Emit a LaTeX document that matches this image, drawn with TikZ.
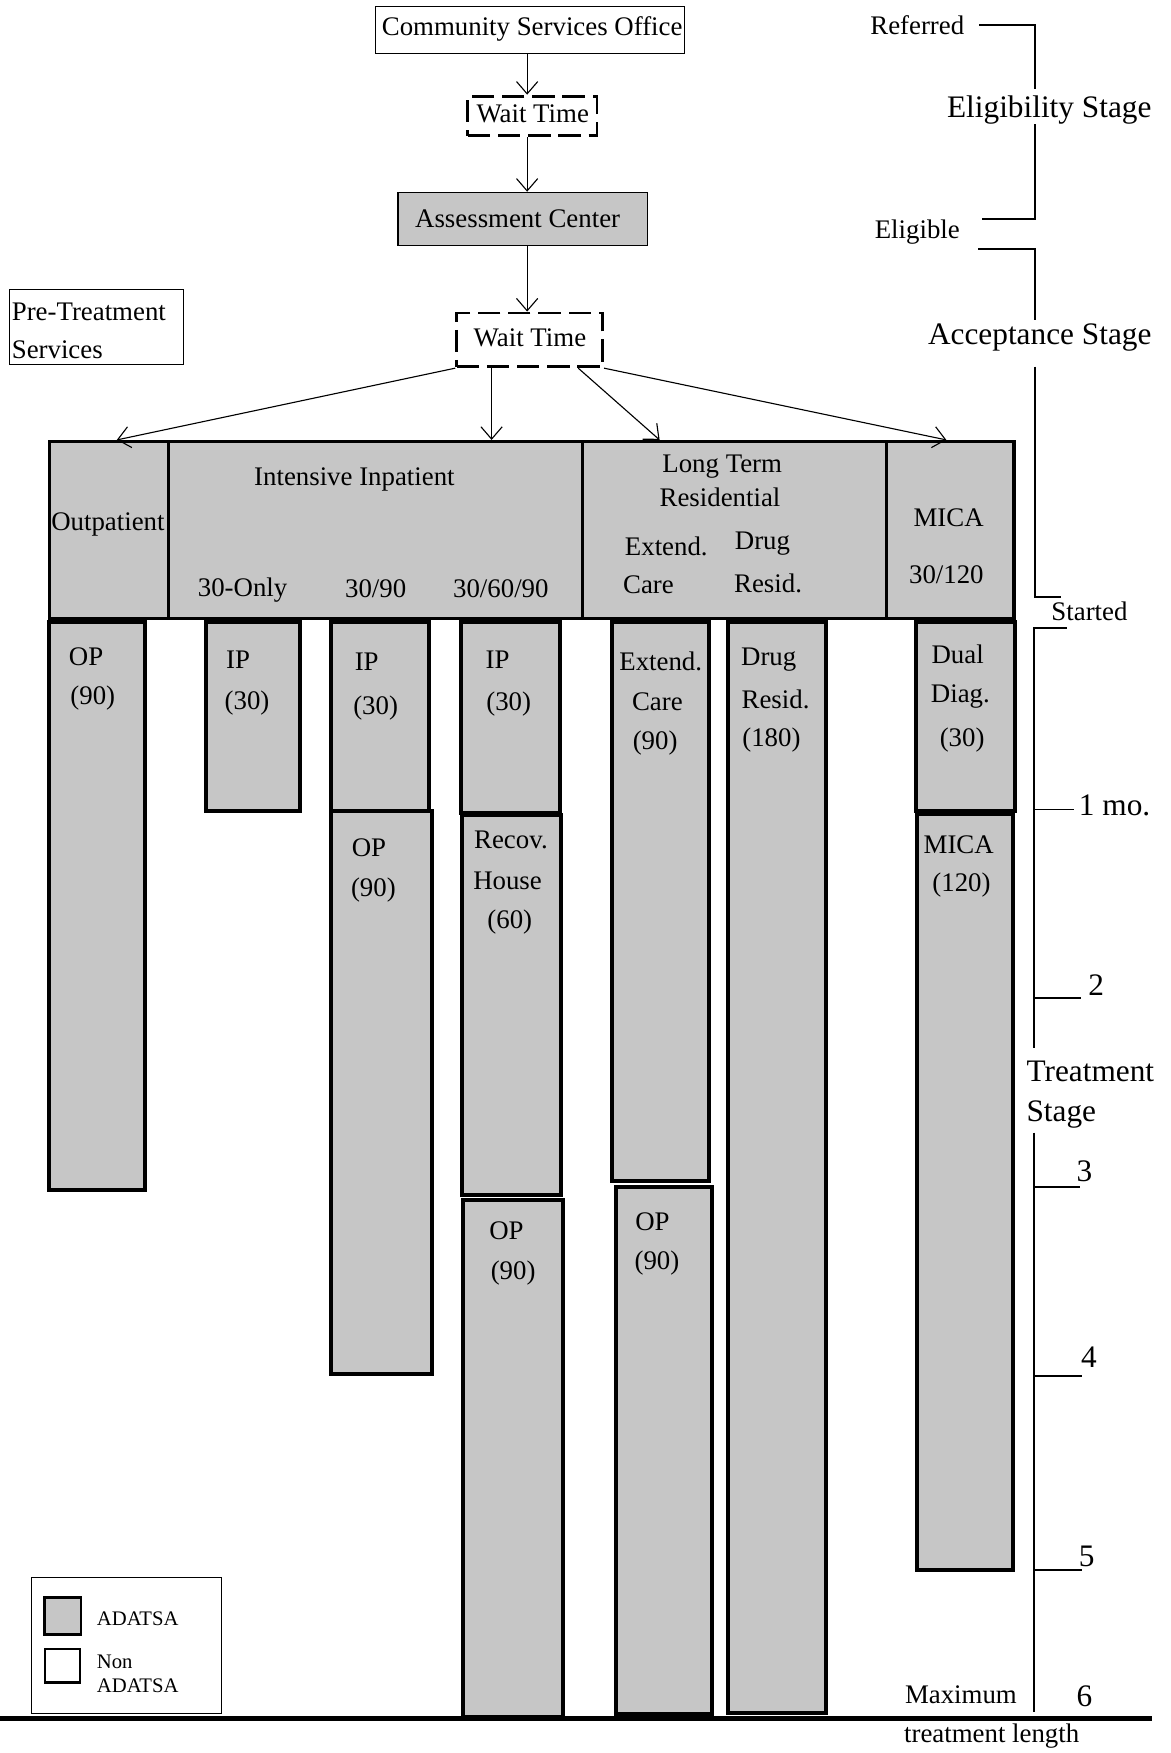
\documentclass[tikz,border=0pt]{standalone}
\usepackage{fontspec}
\setmainfont{Liberation Serif}
\usetikzlibrary{arrows.meta,fit}
\begin{document}
\begin{tikzpicture}[x=1pt,y=-1pt,
  tx/.style={font=\fontsize{24}{28}\selectfont, inner sep=0pt},
  bigtx/.style={font=\fontsize{28}{32}\selectfont, inner sep=0pt},
  smtx/.style={font=\fontsize{18.5}{21}\selectfont, inner sep=0pt},
  hbox/.style={draw, line width=3pt, fill=gray!45, inner sep=0pt},
  cbox/.style={draw, line width=3.6pt, fill=gray!45, inner sep=0pt},
  dbox/.style={draw, line width=2.6pt, dash pattern=on 20pt off 7pt, inner sep=0pt, fill=white},
  plainbox/.style={draw, line width=1pt, inner sep=0pt},
  arr/.style={line width=1pt, -{Straight Barb[length=11pt,width=19pt]}},
  ln/.style={line width=1.6pt},
]
\useasboundingbox (0,0) rectangle (1047,1568);

% top chain
\node[plainbox, fit={(336,5.5) (612.5,47.5)}] (cso) {};
\node[tx] (csot) at (476,26) {Community Services Office};
\node[dbox, fit={(418.5,86) (534,121.5)}] (wt1) {};
\node[tx] (wt1t) at (476.5,102) {Wait Time};
\node[plainbox, fill=gray!45, fit={(356,172) (579,219.5)}] (ac) {};
\node[tx] (act) at (463,195.5) {Assessment Center};
\node[dbox, fit={(408.5,280) (539,328)}] (wt2) {};
\node[tx] (wt2t) at (474,302) {Wait Time};
\coordinate (ax) at (471.5,0);
\draw[arr] (cso.south -| ax) -- (wt1.north -| ax);
\draw[arr] (wt1.south -| ax) -- (ac.north -| ax);
\draw[arr] (ac.south -| ax) -- (wt2.north -| ax);

% pre-treatment label
\node[plainbox, fit={(8.3,259) (164,326)}] (pts) {};
\node[tx, anchor=west] (ptsa) at (10.4,279) {Pre-Treatment};
\node[tx, anchor=west] (ptsb) at (10.4,313) {Services};

% header row
\node[hbox, fit={(44,395) (151,553)}] (hOut) {};
\node[hbox, fit={(151,395) (521,553)}] (hInt) {};
\node[hbox, fit={(521,395) (793,553)}] (hLTR) {};
\node[hbox, fit={(793,395) (907,553)}] (hMICA) {};

\node[tx] (tOut) at (96.5,469) {Outpatient};
\node[tx] (tInt) at (317,429) {Intensive Inpatient};
\node[tx] (t30o) at (217,528) {30-Only};
\node[tx] (t3090) at (336,527) {30/90};
\node[tx] (t306090) at (448,527) {30/60/90};
\node[tx] (tLT1) at (646,417) {Long Term};
\node[tx] (tLT2) at (644,445) {Residential};
\node[tx] (tEC1) at (596,489) {Extend.};
\node[tx] (tEC2) at (580,523) {Care};
\node[tx] (tDR1) at (682,486) {Drug};
\node[tx] (tDR2) at (687,521.5) {Resid.};
\node[tx] (tM1) at (848.5,463) {MICA};
\node[tx] (tM2) at (846.5,514) {30/120};

% fan-out arrows
\coordinate (s2) at ([xshift=32.5pt]wt2.south west);
\coordinate (s3) at ([xshift=110pt]wt2.south west);
\draw[arr] (wt2.south west) -- ([xshift=7pt]hOut.north);
\draw[arr] (s2) -- (s2 |- hInt.north);
\draw[arr] (s3) -- ([xshift=-67pt]hLTR.north);
\draw[arr] (wt2.south east) -- ([xshift=-3.5pt]hMICA.north);

% treatment columns
\node[cbox, fit={(44,556) (130,1064)}] (c1) {};
\node[tx] (c1a) at (77,587) {OP};
\node[tx] (c1b) at (83,624) {(90)};

\node[cbox, fit={(184,556) (268,725)}] (c2) {};
\node[tx] (c2a) at (213,590) {IP};
\node[tx] (c2b) at (221,629) {(30)};

\node[cbox, fit={(296,725) (386,1229)}] (c3b) {};
\node[cbox, fit={(296,556) (384,725)}] (c3a) {};
\node[tx] (c3a1) at (328,591.6) {IP};
\node[tx] (c3a2) at (336,633) {(30)};
\node[tx] (c3b1) at (330,758) {OP};
\node[tx] (c3b2) at (334,796) {(90)};

\node[cbox, fit={(412,556) (501,727)}] (c4a) {};
\node[cbox, fit={(413,729) (502,1069)}] (c4b) {};
\node[cbox, fit={(414,1073) (504,1536)}] (c4c) {};
\node[tx] (c4a1) at (445,590) {IP};
\node[tx] (c4a2) at (455,630) {(30)};
\node[tx] (c4b1) at (457,751) {Recov.};
\node[tx] (c4b2) at (454,788) {House};
\node[tx] (c4b3) at (456,825) {(60)};
\node[tx] (c4c1) at (453,1101) {OP};
\node[tx] (c4c2) at (459,1138.5) {(90)};

\node[cbox, fit={(547,556) (634,1056)}] (c5a) {};
\node[cbox, fit={(551,1062) (636.5,1533)}] (c5b) {};
\node[tx] (c5a1) at (591,591.6) {Extend.};
\node[tx] (c5a2) at (588,628) {Care};
\node[tx] (c5a3) at (586,664.5) {(90)};
\node[tx] (c5b1) at (583.6,1092.4) {OP};
\node[tx] (c5b2) at (587.6,1129.5) {(90)};

\node[cbox, fit={(651,556) (739,1532)}] (c6) {};
\node[tx] (c61) at (687.6,590) {Drug};
\node[tx] (c62) at (693.7,626) {Resid.};
\node[tx] (c63) at (690,661.7) {(180)};

\node[cbox, fit={(819,556) (907.5,725)}] (c7a) {};
\node[cbox, fit={(820,728.5) (906.3,1404)}] (c7b) {};
\node[tx] (c7a1) at (856.6,585.7) {Dual};
\node[tx] (c7a2) at (859,623) {Diag.};
\node[tx] (c7a3) at (860.6,661.7) {(30)};
\node[tx] (c7b1) at (857.5,755.5) {MICA};
\node[tx] (c7b2) at (860,792) {(120)};

% bottom line
\draw[line width=4pt] (0,1537) -- (1030,1537);

% legend
\node[plainbox, fit={(28,1411) (198,1533)}] (leg) {};
\node[draw, line width=2.5pt, fill=gray!45, inner sep=0pt, fit={(39.5,1429) (72.5,1462)}] (lg1) {};
\node[draw, line width=2pt, inner sep=0pt, fit={(40,1475) (71.5,1505)}] (lg2) {};
\node[smtx, anchor=west] (lt1) at (86.5,1448) {ADATSA};
\node[smtx, anchor=west] (lt2) at (86.5,1486) {Non};
\node[smtx, anchor=west] (lt3) at (86.5,1507.5) {ADATSA};

% stage timeline
\node[tx] (ref) at (820.5,22.3) {Referred};
\node[bigtx] (elst) at (938.5,98) {Eligibility Stage};
\node[tx] (elig) at (820.5,208) {Eligible};
\node[bigtx] (acst) at (930,302) {Acceptance Stage};
\node[tx] (stt) at (974.5,547) {Started};
\node[bigtx] (m1) at (997,720) {1 mo.};
\node[bigtx] (m2) at (980.5,881) {2};
\node[bigtx] (m3) at (970,1048) {3};
\node[bigtx] (m4) at (974,1214) {4};
\node[bigtx] (m5) at (972,1392) {5};
\node[bigtx] (m6) at (970,1517) {6};
\node[bigtx, anchor=west] (trt) at (918,958) {Treatment};
\node[bigtx, anchor=west] (stg) at (918,997) {Stage};
\node[tx] (maxi) at (859.5,1516) {Maximum};
\node[tx] (tlen) at (887,1553) {treatment length};

\draw[ln] (876,22.3) -- (925.5,22.3) -- (925.5,80);
\draw[ln] (925.5,111) -- (925.5,196) -- (878,196);
\draw[ln] (875,223) -- (926,223) -- (926,286);
\draw[ln] (926,328) -- (926,534) -- (949,534);
\draw[ln] (954,562) -- (925,562) -- (925,937);
\draw[ln] (925,1013) -- (925,1531);
\draw[ln] (925,724) -- (961,724);
\draw[ln] (925,892.5) -- (967,892.5);
\draw[ln] (925,1062) -- (966,1062);
\draw[ln] (925,1231) -- (968,1231);
\draw[ln] (925,1404) -- (968,1404);
\end{tikzpicture}
\end{document}
